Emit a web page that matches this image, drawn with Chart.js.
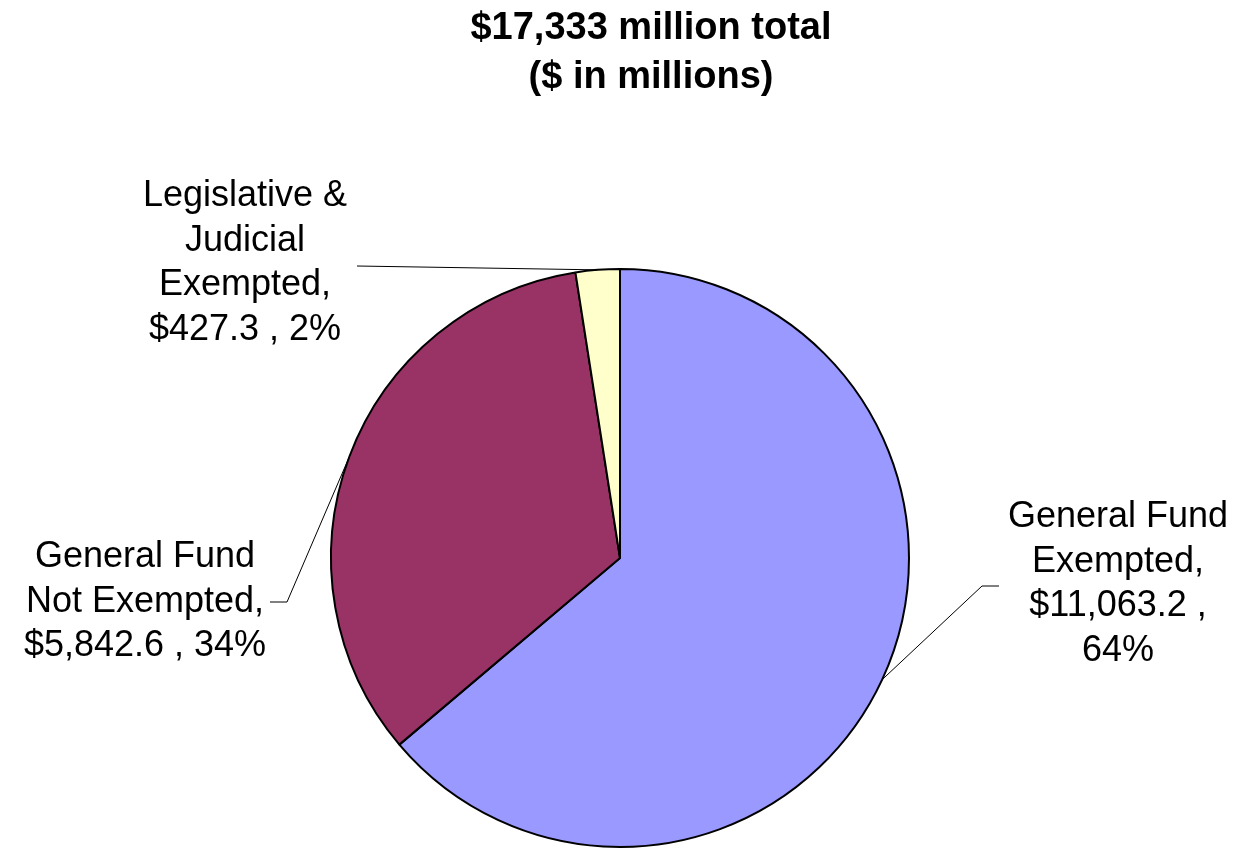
<!DOCTYPE html>
<html>
<head>
<meta charset="utf-8">
<script src="https://cdn.jsdelivr.net/npm/chart.js@4.4.0/dist/chart.umd.min.js"></script>
<style>
html,body{margin:0;padding:0;background:#fff;}
#wrap{width:1235px;height:851px;position:relative;}
</style>
</head>
<body>
<div id="wrap"><canvas id="c"></canvas></div>
<script>
const titleLines = ["$17,333 million total", "($ in millions)"];
const categories = ["General Fund Exempted", "General Fund Not Exempted", "Legislative & Judicial Exempted"];
const values = [11063.2, 5842.6, 427.3];
const percents = ["64%", "34%", "2%"];
const labelLines = [
  ["General Fund", "Exempted,", "$11,063.2 ,", "64%"],
  ["General Fund", "Not Exempted,", "$5,842.6 , 34%"],
  ["Legislative &", "Judicial", "Exempted,", "$427.3 , 2%"]
];
const colors = ["#9999FF", "#993366", "#FFFFCC"];

// label placement relative to pie center / radius (dx, dy of text block center, elbow point, elbow end)
const labelLayout = [
  {tx: 498, ty: 26, align: "center", elbow: [362, 28], end: [379, 28]},
  {tx: -475, ty: 44, align: "center", elbow: [-333, 44], end: [-350, 44]},
  {tx: -375, ty: -295, align: "center", elbow: null, end: [-263, -292]}
];

const overlay = {
  id: "overlay",
  afterDraw(chart) {
    const ctx = chart.ctx;
    ctx.save();
    // title
    ctx.fillStyle = "#000";
    ctx.textAlign = "center";
    ctx.textBaseline = "middle";
    ctx.font = "bold 38px 'Liberation Sans', Arial, sans-serif";
    titleLines.forEach((t, i) => ctx.fillText(t, 651, 29 + i * 49));

    const meta = chart.getDatasetMeta(0);
    meta.data.forEach((arc, i) => {
      const p = arc.getProps(["x", "y", "startAngle", "endAngle", "outerRadius"], true);
      const mid = (p.startAngle + p.endAngle) / 2;
      const ax = p.x + Math.cos(mid) * p.outerRadius;
      const ay = p.y + Math.sin(mid) * p.outerRadius;
      const L = labelLayout[i];
      ctx.strokeStyle = "#000";
      ctx.lineWidth = 1;
      ctx.beginPath();
      ctx.moveTo(ax, ay);
      if (L.elbow) ctx.lineTo(p.x + L.elbow[0], p.y + L.elbow[1]);
      ctx.lineTo(p.x + L.end[0], p.y + L.end[1]);
      ctx.stroke();
      ctx.font = "36px 'Liberation Sans', Arial, sans-serif";
      ctx.fillStyle = "#000";
      ctx.textAlign = "center";
      ctx.textBaseline = "middle";
      const lines = labelLines[i];
      const lh = 44.5;
      const y0 = p.y + L.ty - (lines.length - 1) * lh / 2;
      lines.forEach((t, k) => ctx.fillText(t, p.x + L.tx, y0 + k * lh));
    });
    ctx.restore();
  }
};

new Chart(document.getElementById("c"), {
  type: "pie",
  data: {
    labels: categories,
    datasets: [{
      data: values,
      backgroundColor: colors,
      borderColor: "#000",
      borderWidth: 2,
      borderAlign: "center"
    }]
  },
  options: {
    responsive: true,
    maintainAspectRatio: false,
    animation: false,
    layout: {padding: {top: 268, bottom: 3, left: 330, right: 325}},
    plugins: {legend: {display: false}, tooltip: {enabled: false}, title: {display: false}}
  },
  plugins: [overlay]
});
</script>
</body>
</html>
